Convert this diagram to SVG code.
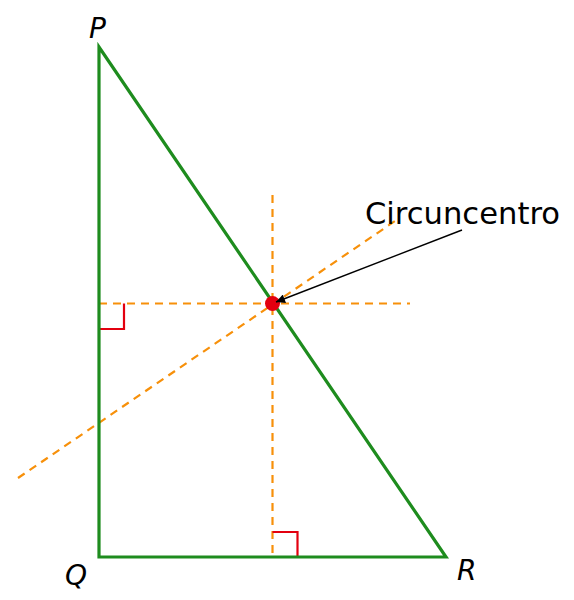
<svg xmlns="http://www.w3.org/2000/svg" width="574" height="600" viewBox="0 0 574 600">
<style>
.dash{stroke:#f7900a;stroke-width:2.2;stroke-dasharray:8 6;fill:none}
.ra{stroke:#e3000f;stroke-width:2.2;fill:none}
.lbl{font-family:"DejaVu Sans",Verdana,sans-serif;font-style:italic;font-size:28px;fill:#000}
</style>
<defs>
<marker id="ah" viewBox="0 0 10 10" refX="10" refY="5" markerWidth="10" markerHeight="9" markerUnits="userSpaceOnUse" orient="auto"><path d="M0,0 L10,5 L0,10 z" fill="#000"/></marker>
</defs>
<rect width="574" height="600" fill="#fff"/>
<g id="connectors">
<line class="dash" x1="272.5" y1="195" x2="272.5" y2="557"/>
<line class="dash" x1="99" y1="303.5" x2="410" y2="303.5"/>
<line class="dash" x1="18" y1="478" x2="395" y2="221"/>
<path class="ra" d="M99,329 H124 V303.5"/>
<path class="ra" d="M272.5,532 H297.5 V557"/>
</g>
<g id="triangle">
<path d="M99,47 L99,557 L446,557 Z" fill="none" stroke="#1e8c1e" stroke-width="3.2" stroke-linejoin="miter"/>
</g>
<g id="circumcenter">
<circle cx="272.5" cy="303.5" r="7.5" fill="#e3000f"/>
<line x1="462" y1="230" x2="276" y2="302" stroke="#000" stroke-width="1.4" marker-end="url(#ah)"/>
<text x="365" y="224" font-family="DejaVu Sans,Verdana,sans-serif" font-size="30.6" fill="#000">Circuncentro</text>
</g>
<g id="P"><text class="lbl" x="89" y="38">P</text></g>
<g id="Q"><text class="lbl" x="65" y="585">Q</text></g>
<g id="R"><text class="lbl" x="457" y="580">R</text></g>
</svg>
